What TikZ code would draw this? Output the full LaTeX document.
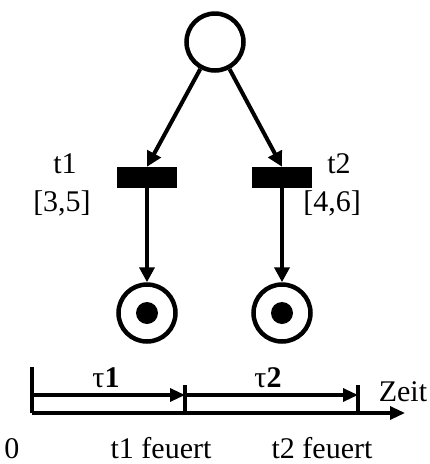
\documentclass[tikz,border=0pt]{standalone}
\usepackage{fontspec}
\setmainfont{Liberation Serif}
\usetikzlibrary{arrows.meta}
\begin{document}
\begin{tikzpicture}[x=1pt,y=-1pt,
  place/.style={circle,draw,line width=4.5pt,minimum size=57pt,inner sep=0pt},
  token/.style={circle,fill,minimum size=22pt,inner sep=0pt},
  trans/.style={rectangle,fill,minimum width=60pt,minimum height=21pt,inner sep=0pt},
  arc/.style={line width=4pt,-{Triangle[length=15pt,width=15pt]}},
  axis/.style={line width=3.2pt},
  axarrow/.style={line width=3.2pt,-{Triangle[length=15pt,width=13pt]}},
  lbl/.style={font=\fontsize{30}{32}\selectfont,inner sep=0pt}]
\useasboundingbox (0,0) rectangle (430,464);

% Petri net
\node[place] (p0) at (215,42) {};
\node[trans] (t1) at (147,177.5) {};
\node[trans] (t2) at (282,177.5) {};
\node[place] (p1) at (147,313) {};
\node[place] (p2) at (282,313) {};
\node[token] (m1) at (p1) {};
\node[token] (m2) at (p2) {};

\draw[arc] (p0) -- (t1.north);
\draw[arc] (p0) -- (t2.north);
\draw[arc] (t1.south) -- (p1);
\draw[arc] (t2.south) -- (p2);

\node[lbl] (l1) at (65,164) {t1};
\node[lbl] (i1) at (62,203) {[3,5]};
\node[lbl] (l2) at (339,164) {t2};
\node[lbl] (i2) at (332,203) {[4,6]};

% time axis
\coordinate (o) at (32,413);
\coordinate (otop) at (32,367);
\coordinate (ax) at (405,413);
\coordinate (a0) at (32,395);
\coordinate (k1b) at (185,413);
\coordinate (k1t) at (185,385);
\coordinate (k1) at (185,395);
\coordinate (k2b) at (358,413);
\coordinate (k2t) at (358,385);
\coordinate (k2) at (358,395);

\draw[axis] (otop) -- (o);
\draw[axarrow] (o) -- (ax);
\draw[axis] (k1t) -- (k1b);
\draw[axis] (k2t) -- (k2b);
\draw[axarrow] (a0) -- (k1);
\draw[axarrow] (k1) -- (k2);

\node[lbl] (tau1) at (106,378) {τ\textbf{1}};
\node[lbl] (tau2) at (268,378) {τ\textbf{2}};
\node[lbl] (zeit) at (403,392) {Zeit};
\node[lbl,anchor=base] (z0) at (12,458) {0};
\node[lbl,anchor=base] (f1) at (161,458) {t1 feuert};
\node[lbl,anchor=base] (f2) at (322,458) {t2 feuert};
\end{tikzpicture}
\end{document}
